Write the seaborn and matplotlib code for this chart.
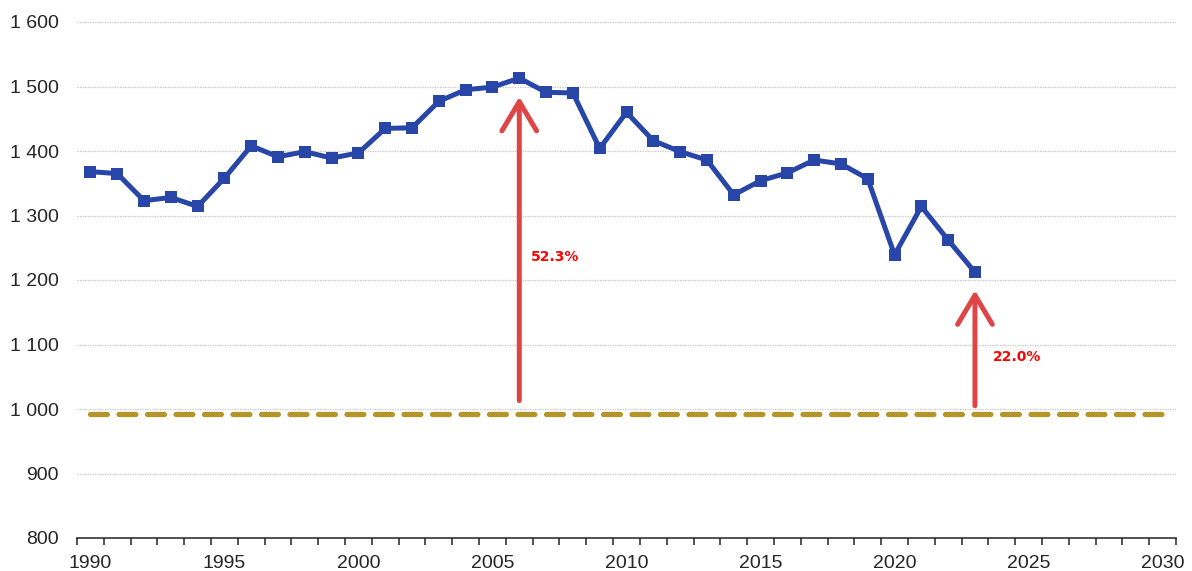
import matplotlib
matplotlib.use("Agg")
import matplotlib.pyplot as plt
import matplotlib.ticker as mticker
import seaborn as sns
import numpy as np
import pandas as pd

# series
years = list(range(1990, 2024))
values = [1368, 1365, 1323, 1328, 1314, 1358, 1408, 1391, 1399, 1389,
          1397, 1435, 1436, 1477, 1495, 1499, 1513, 1491, 1490, 1404,
          1460, 1416, 1399, 1386, 1332, 1354, 1366, 1386, 1380, 1357,
          1239, 1314, 1262, 1212]

# dashed target level
target_years = [1990, 2030]
target_values = [992, 992]

# red arrows and their labels
arrow_years = [2006, 2023]
arrow_start = [1013, 1005]
arrow_end = [1484, 1184]
arrow_labels = ["52.3%", "22.0%"]
label_x = [2006.45, 2023.65]
label_y = [1236, 1081]

sns.set_style("white")
plt.rcParams["font.family"] = ["Liberation Sans", "DejaVu Sans"]

df = pd.DataFrame({"year": years, "value": values})
target = pd.DataFrame({"year": target_years, "value": target_values})

fig = plt.figure(figsize=(11.92, 5.71), dpi=100)
ax = fig.add_axes([77 / 1192, 1 - 538 / 571, (1176 - 77) / 1192, (538 - 22) / 571])

sns.lineplot(data=target, x="year", y="value", ax=ax, color="#B3952A",
             linewidth=3.8, dashes=(3.2, 2.2), zorder=2)
ax.lines[-1].set_dash_capstyle("round")

sns.lineplot(data=df, x="year", y="value", ax=ax, color="#2746A8",
             linewidth=3.6, marker="s", markersize=8.5, markeredgewidth=0,
             zorder=4)

for yr, y0, y1, lab, tx, ty in zip(arrow_years, arrow_start, arrow_end,
                                   arrow_labels, label_x, label_y):
    ax.annotate("", xy=(yr, y1), xytext=(yr, y0),
                arrowprops=dict(arrowstyle="->,head_length=21,head_width=12.5",
                                mutation_scale=1, color="#E04545", lw=3.6,
                                shrinkA=0, shrinkB=0, capstyle="round",
                                joinstyle="round"), zorder=3)
    ax.text(tx, ty, lab, color="#FF0000", fontsize=10, fontweight="bold",
            ha="left", va="center", family=["DejaVu Sans"])

ax.set_xlim(1989.5, 2030.5)
ax.set_ylim(800, 1600)
ax.set_yticks(range(800, 1601, 100))
ax.yaxis.set_major_formatter(mticker.FuncFormatter(
    lambda v, p: f"{int(v):,}".replace(",", " ")))
ax.set_xticks(range(1990, 2031, 5))
ax.xaxis.set_minor_locator(mticker.FixedLocator(np.arange(1989.5, 2031, 1)))

ax.grid(axis="y", color="#C4C4C4", linestyle=(0, (1, 1)), linewidth=0.9)
ax.grid(axis="x", visible=False)
for side in ["left", "right", "top"]:
    ax.spines[side].set_visible(False)
ax.spines["bottom"].set_color("#222222")
ax.spines["bottom"].set_linewidth(1.1)

ax.tick_params(axis="y", length=0, pad=13, labelsize=14, labelcolor="#262626")
ax.tick_params(axis="x", which="major", length=0, pad=12.5, labelsize=14,
               labelcolor="#262626")
ax.tick_params(axis="x", which="minor", length=5, width=1.1, color="#222222",
               direction="out", bottom=True)
ax.set_xlabel("")
ax.set_ylabel("")

fig.savefig("out.png", dpi=100)
